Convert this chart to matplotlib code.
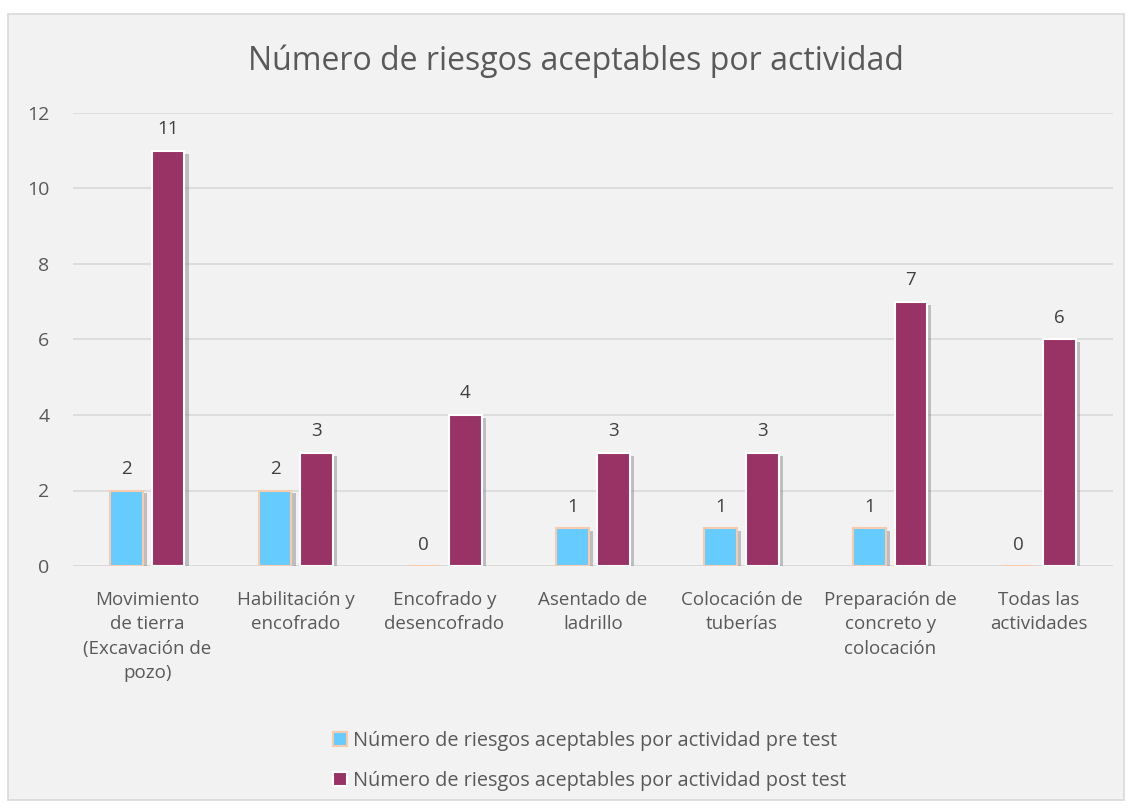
import matplotlib
matplotlib.use("Agg")
import matplotlib.pyplot as plt
import matplotlib.patheffects as pe
from matplotlib.patches import Rectangle
import numpy as np

categories = ["Movimiento\nde tierra\n(Excavación de\npozo)", "Habilitación y\nencofrado",
              "Encofrado y\ndesencofrado", "Asentado de\nladrillo", "Colocación de\ntuberías",
              "Preparación de\nconcreto y\ncolocación", "Todas las\nactividades"]
pre_test = [2, 2, 0, 1, 1, 1, 0]
post_test = [11, 3, 4, 3, 3, 7, 6]
series_names = ["Número de riesgos aceptables por actividad pre test",
                "Número de riesgos aceptables por actividad post test"]
title = "Número de riesgos aceptables por actividad"

plt.rcParams['font.family'] = ['Open Sans', 'DejaVu Sans']
txt = '#595959'

fig = plt.figure(figsize=(11.32, 8.08), dpi=100)
fig.patch.set_facecolor('white')
W, H = 1132, 808
fig.patches.append(Rectangle((8 / W, 1 - 800 / H), (1124 - 8) / W, (800 - 14) / H,
                             transform=fig.transFigure, facecolor='#f2f2f2',
                             edgecolor='#d9d9d9', linewidth=1.2, zorder=-10))

ax = fig.add_axes([73 / W, 1 - 566 / H, (1113 - 73) / W, (566 - 113) / H])
ax.set_facecolor('none')
ax.set_zorder(5)
x = np.arange(len(categories))
bw = 0.22
off = 0.14
shadow = [pe.SimplePatchShadow(offset=(3, -2), shadow_rgbFace='#7f7f7f', alpha=0.45), pe.Normal()]
b1 = ax.bar(x - off, pre_test, bw, color='#66ccff', edgecolor='#f8cbad', linewidth=1.5,
            label=series_names[0], zorder=3, path_effects=shadow)
b2 = ax.bar(x + off, post_test, bw, color='#993366', edgecolor='white', linewidth=1.5,
            label=series_names[1], zorder=3, path_effects=shadow)
for rects, vals in ((b1, pre_test), (b2, post_test)):
    for r, v in zip(rects, vals):
        ax.annotate(str(v), (r.get_x() + r.get_width() / 2, v), xytext=(0, 9),
                    textcoords='offset points', ha='center', va='bottom', fontsize=13.5, color='#404040')

ax.set_xlim(-0.5, len(categories) - 0.5)
ax.set_ylim(0, 12)
ax.set_yticks(range(0, 13, 2))
ax.yaxis.grid(True, color='#d9d9d9', linewidth=1.2, zorder=0)
ax.set_axisbelow(True)
for s in ax.spines.values():
    s.set_visible(False)
ax.tick_params(axis='both', length=0, labelsize=13.5, labelcolor=txt)
ax.tick_params(axis='y', labelsize=14, pad=17)
ax.tick_params(axis='x', pad=18)
ax.set_xticks(x)
ax.set_xticklabels(categories, linespacing=1.45)
ax.axhline(0, color='#d9d9d9', linewidth=1.2, zorder=1)

fig.text(576 / W, 1 - 61 / H, title, ha='center', va='center', fontsize=23, color=txt)

leg = fig.legend(handles=[b1, b2], loc='center left', bbox_to_anchor=(315 / W, 1 - 761 / H),
                 ncol=1, frameon=False, fontsize=14.3, labelcolor=txt, handlelength=0.7,
                 handleheight=0.7, handletextpad=0.3, labelspacing=1.0)
for h in leg.legend_handles:
    h.set_path_effects([])

fig.savefig('out.png', dpi=100, facecolor='white')
